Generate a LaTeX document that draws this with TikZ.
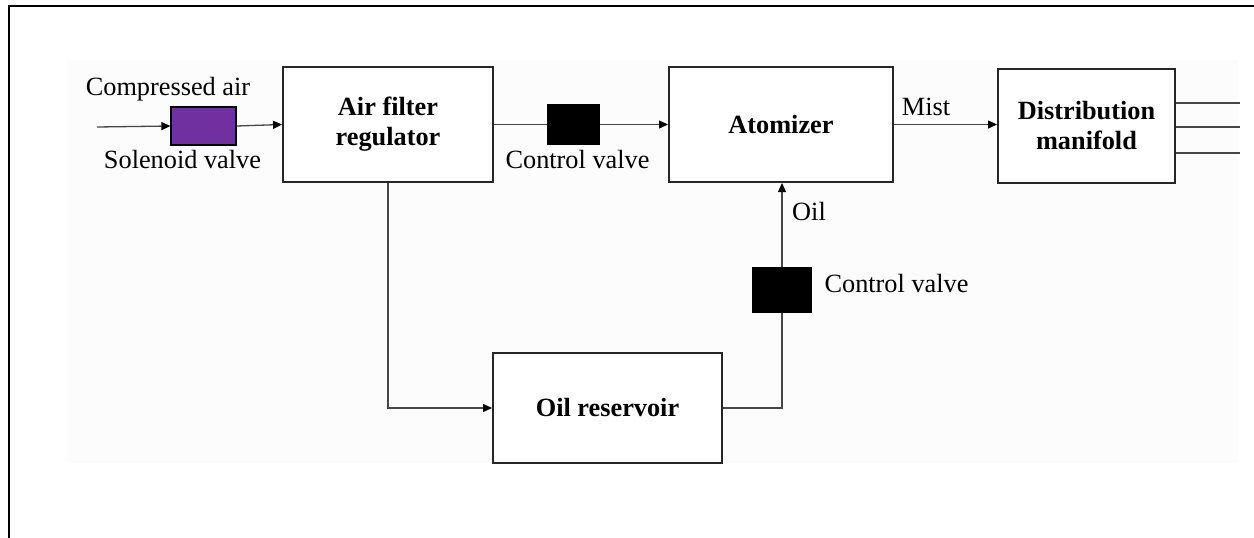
\documentclass[tikz,border=0pt]{standalone}
\usepackage{fontspec}
\setmainfont{Liberation Serif}
\usetikzlibrary{arrows.meta}
\definecolor{svpurple}{RGB}{112,48,160}
\definecolor{conn}{RGB}{70,70,70}
\tikzset{
  blk/.style={draw=black!85, line width=2pt, fill=white, inner sep=0pt, align=center,
    font=\fontsize{26.3}{30}\selectfont\bfseries},
  valvebox/.style={draw=black, line width=1.2pt, inner sep=0pt},
  lbl/.style={font=\fontsize{26.3}{30}\selectfont, inner sep=0pt, anchor=base},
  wire/.style={draw=conn, line width=1.3pt},
  arr/.style={wire, -{Triangle[length=9pt,width=8pt,color=black]}},
}
\begin{document}
\begin{tikzpicture}[x=1pt,y=-1pt]
\useasboundingbox (0,0) rectangle (1254,538);
\fill[white] (0,0) rectangle (1254,538);
\fill[black!1] (67,60) rectangle (1238,463);
\draw[line width=2.5pt] (9,538) -- (9,6) -- (1254,6);

% blocks
\node[blk, minimum width=210pt, minimum height=115pt] (afr) at (388,124.5) {Air filter\\regulator};
\node[blk, minimum width=224pt, minimum height=115pt] (atom) at (781,124.5) {Atomizer};
\node[blk, minimum width=177pt, minimum height=114pt] (dm) at (1086.5,126) {Distribution\\manifold};
\node[blk, minimum width=229pt, minimum height=110pt] (res) at (607.5,408) {Oil reservoir};

% valves
\node[valvebox, fill=svpurple, minimum width=65pt, minimum height=38pt] (sv) at (203.5,126) {};
\node[valvebox, fill=black, minimum width=51pt, minimum height=39pt] (cv1) at (573.5,124.5) {};
\node[valvebox, fill=black, minimum width=59pt, minimum height=44pt] (cv2) at (782,290) {};

% labels
\node[lbl] (lca) at (168,95) {Compressed air};
\node[lbl] (lsv) at (182.5,168) {Solenoid valve};
\node[lbl] (lcv1) at (577.5,168) {Control valve};
\node[lbl] (lmist) at (926,115) {Mist};
\node[lbl] (loil) at (809,220) {Oil};
\node[lbl] (lcv2) at (896.5,292) {Control valve};

% connectors
\coordinate (in) at (97,127);
\draw[arr] (in) -- (sv.west);
\draw[arr] (sv.east) -- (afr.west);
\draw[wire] (afr.east) -- (cv1.west);
\draw[arr] (cv1.east) -- (atom.west);
\draw[arr] (atom.east) -- (atom.east -| dm.west);
\coordinate (o1) at (1240,103);
\coordinate (o2) at (1240,127);
\coordinate (o3) at (1240,153);
\draw[wire] (dm.east |- o1) -- (o1);
\draw[wire] (dm.east |- o2) -- (o2);
\draw[wire] (dm.east |- o3) -- (o3);
\draw[arr] (afr.south) |- (res.west);
\draw[wire] (res.east) -| (cv2.south);
\draw[arr] (cv2.north) -- (cv2.north |- atom.south);
\end{tikzpicture}
\end{document}
